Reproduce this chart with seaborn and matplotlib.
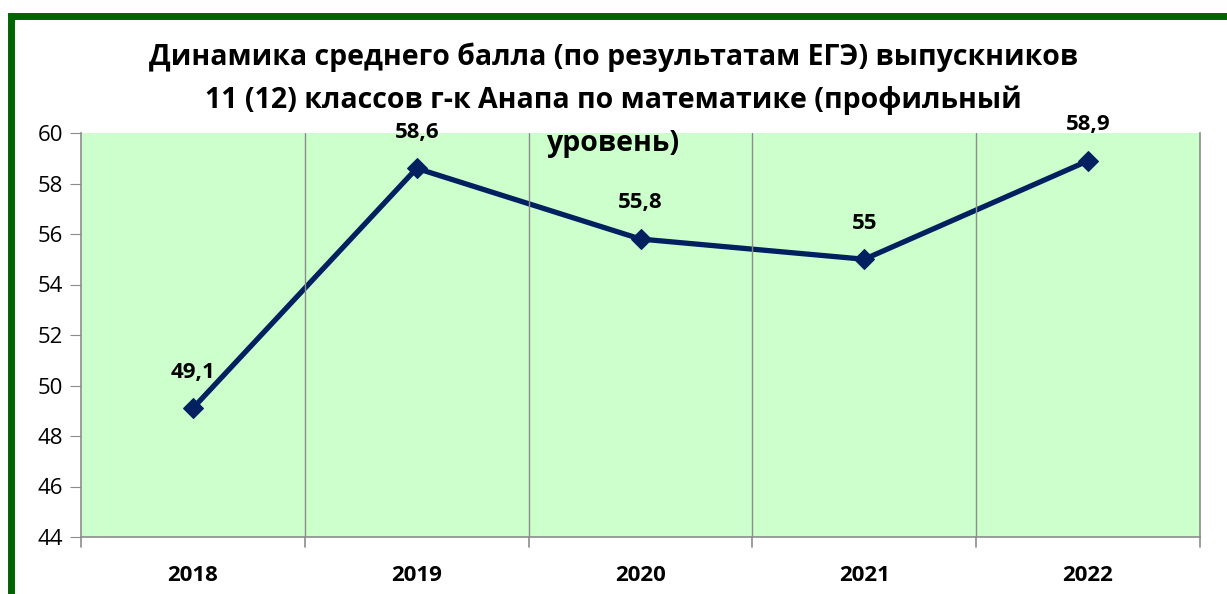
import pandas as pd
import matplotlib.pyplot as plt
import matplotlib.patches as patches
import seaborn as sns

# данные
years = ['2018', '2019', '2020', '2021', '2022']
scores = [49.1, 58.6, 55.8, 55.0, 58.9]
labels = ['49,1', '58,6', '55,8', '55', '58,9']
yticks = [44, 46, 48, 50, 52, 54, 56, 58, 60]
title_lines = ['Динамика среднего балла (по результатам ЕГЭ) выпускников',
               '11 (12) классов г-к Анапа по математике (профильный',
               'уровень)']

df = pd.DataFrame({'year': years, 'score': scores})

sns.set_style('white')
plt.rcParams['font.family'] = ['Open Sans', 'DejaVu Sans']
plt.rcParams['text.color'] = 'black'
plt.rcParams['xtick.color'] = 'black'
plt.rcParams['ytick.color'] = 'black'

fig = plt.figure(figsize=(12.27, 5.94), dpi=100)
ax = fig.add_axes([81 / 1227, 57 / 594, 1119 / 1227, 404 / 594])
ax.set_facecolor('#CCFFCC')

sns.lineplot(x='year', y='score', data=df, ax=ax, color='#002060',
             linewidth=3.8, marker='D', markersize=10, markeredgecolor='#002060')

for i, (v, t) in enumerate(zip(scores, labels)):
    ax.annotate(t, (i, v), xytext=(0, 26), textcoords='offset points',
                ha='center', va='center', fontsize=16, fontweight='bold')

ax.set_xlim(-0.5, 4.5)
ax.set_ylim(44, 60)
ax.set_yticks(yticks)
ax.set_yticklabels([str(y) for y in yticks], fontsize=16)
ax.set_xticks(range(len(years)))
ax.set_xticklabels(years, fontsize=16, fontweight='bold')
ax.tick_params(axis='x', length=0, pad=20)
ax.tick_params(axis='y', length=8, color='#8c8c8c', direction='out', pad=5, left=True)

# вертикальные линии между категориями + засечки
for xb in [0.5, 1.5, 2.5, 3.5]:
    ax.axvline(xb, color='#8c8c8c', linewidth=1)
for xb in [-0.5, 0.5, 1.5, 2.5, 3.5, 4.5]:
    ax.plot([xb, xb], [44, 43.6], color='#8c8c8c', linewidth=1.2, clip_on=False)

ax.set_xlabel('')
ax.set_ylabel('')
for s in ['left', 'bottom', 'right']:
    ax.spines[s].set_color('#8c8c8c')
    ax.spines[s].set_linewidth(1.2)
ax.spines['top'].set_visible(False)

# заголовок по строкам
for k, line in enumerate(title_lines):
    fig.text(0.5, 1 - (57 + 43 * k) / 594, line,
             ha='center', va='center', fontsize=20.5, fontweight='bold')

frame = patches.Rectangle((10.5 / 1227, -0.2), 1.2, 1.2 - 15.5 / 594,
                          transform=fig.transFigure, fill=False,
                          edgecolor='#006400', linewidth=5, clip_on=False)
fig.patches.append(frame)

fig.savefig('out.png', dpi=100)
